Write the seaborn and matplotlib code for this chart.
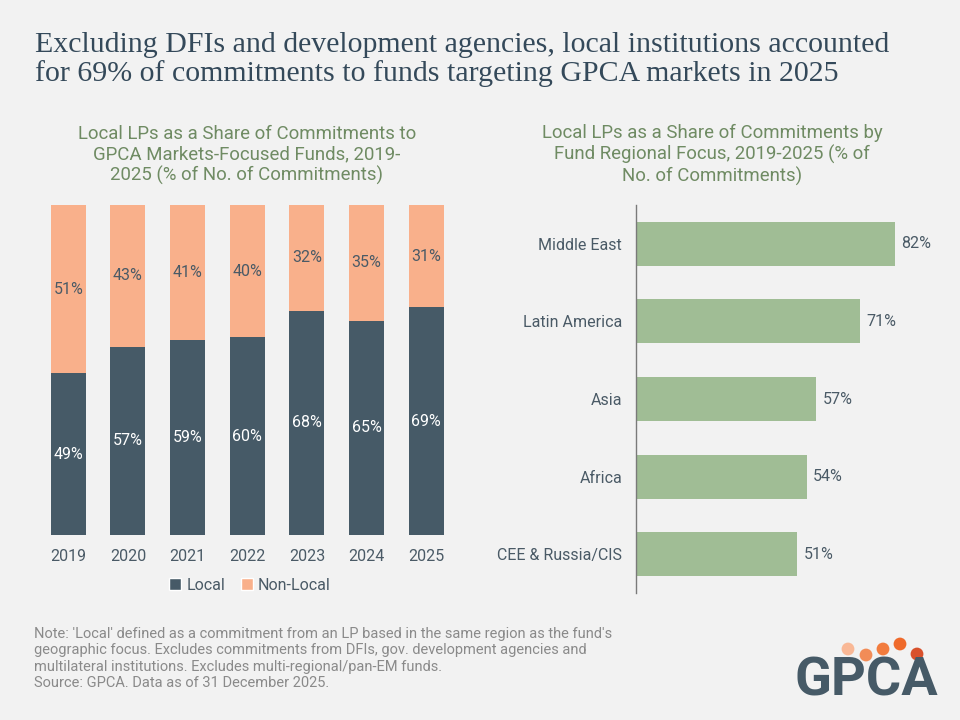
import matplotlib
matplotlib.use("Agg")
import matplotlib.pyplot as plt
import seaborn as sns
import pandas as pd
import numpy as np
from matplotlib.patches import Patch

# ---- data ----
years = ["2019", "2020", "2021", "2022", "2023", "2024", "2025"]
local = [49, 57, 59, 60, 68, 65, 69]
non_local = [51, 43, 41, 40, 32, 35, 31]

regions = ["Middle East", "Latin America", "Asia", "Africa", "CEE & Russia/CIS"]
region_share = [82, 71, 57, 54, 51]

# ---- style ----
BG = "#f2f2f2"
C_LOCAL = "#465a67"
C_NONLOCAL = "#f9b08b"
C_GREEN = "#a0bd95"
C_SUB = "#6f8b63"
C_TEXT = "#4a5a66"
C_TITLE = "#34495a"

sns.set_theme(style="white")
plt.rcParams["font.family"] = ["Roboto", "DejaVu Sans"]

fig = plt.figure(figsize=(9.6, 7.2), dpi=100, facecolor=BG)

def fx(px):
    return px / 960.0

def fy(py):
    return 1 - py / 720.0

# ---- title ----
TF = ["Liberation Serif", "DejaVu Serif"]
fig.text(fx(35), fy(45), "Excluding DFIs and development agencies, local institutions accounted",
         fontsize=21.5, family=TF, color=C_TITLE, va="center", ha="left")
fig.text(fx(35), fy(74), "for 69% of commitments to funds targeting GPCA markets in 2025",
         fontsize=21.5, family=TF, color=C_TITLE, va="center", ha="left")

# ---- left chart ----
df_left = pd.DataFrame({"year": years, "local": local, "non_local": non_local})
df_left["total"] = df_left["local"] + df_left["non_local"]

ax1 = fig.add_axes([fx(38.5), fy(535), fx(456 - 38.5), (535 - 205) / 720.0])
ax1.set_facecolor(BG)
sns.barplot(data=df_left, x="year", y="total", color=C_NONLOCAL, width=0.586,
            saturation=1, ax=ax1, linewidth=0)
sns.barplot(data=df_left, x="year", y="local", color=C_LOCAL, width=0.586,
            saturation=1, ax=ax1, linewidth=0)
ax1.set_ylim(0, 100)
ax1.set_xlim(-0.5, 6.5)
for i, (l, n) in enumerate(zip(local, non_local)):
    ax1.text(i, l / 2, f"{l}%", ha="center", va="center", color="white", fontsize=11.5)
    ax1.text(i, l + n / 2, f"{n}%", ha="center", va="center", color=C_TEXT, fontsize=11.5)
ax1.set_xlabel("")
ax1.set_ylabel("")
ax1.set_yticks([])
ax1.tick_params(axis="x", length=0, labelsize=11.5, labelcolor=C_TEXT, pad=10)
for s in ax1.spines.values():
    s.set_visible(False)

handles = [Patch(facecolor=C_LOCAL, label="Local"), Patch(facecolor=C_NONLOCAL, label="Non-Local")]
fig.legend(handles=handles, loc="center", bbox_to_anchor=(fx(250), fy(585)), ncol=2, frameon=False,
           fontsize=11.5, labelcolor=C_TEXT, handlelength=0.75, handleheight=0.75, handletextpad=0.3,
           columnspacing=1.0)

fig.text(fx(247), fy(155), "Local LPs as a Share of Commitments to\nGPCA Markets-Focused Funds, 2019-\n2025 (% of No. of Commitments)",
         ha="center", va="center", fontsize=13.4, color=C_SUB, linespacing=1.17)

# ---- right chart ----
df_right = pd.DataFrame({"region": regions, "share": region_share})
ax2 = fig.add_axes([fx(636), fy(593), fx(316), (593 - 205) / 720.0])
ax2.set_facecolor(BG)
sns.barplot(data=df_right, y="region", x="share", color=C_GREEN, width=0.567,
            saturation=1, ax=ax2, linewidth=0, orient="h")
ax2.set_xlim(0, 100)
ax2.set_ylim(4.5, -0.5)
for i, v in enumerate(region_share):
    ax2.text(v + 2.0, i, f"{v}%", ha="left", va="center", color=C_TEXT, fontsize=11.5)
ax2.set_xlabel("")
ax2.set_ylabel("")
ax2.set_xticks([])
ax2.tick_params(axis="y", length=0, labelsize=11.5, labelcolor=C_TEXT, pad=10)
for k, s in ax2.spines.items():
    s.set_visible(k == "left")
ax2.spines["left"].set_color("#7a7a7a")
ax2.spines["left"].set_linewidth(1.0)

fig.text(fx(712), fy(155), "Local LPs as a Share of Commitments by\nFund Regional Focus, 2019-2025 (% of\nNo. of Commitments)",
         ha="center", va="center", fontsize=13.4, color=C_SUB, linespacing=1.17)

# ---- note ----
note = ("Note: 'Local' defined as a commitment from an LP based in the same region as the fund's\n"
        "geographic focus. Excludes commitments from DFIs, gov. development agencies and\n"
        "multilateral institutions. Excludes multi-regional/pan-EM funds.\n"
        "Source: GPCA. Data as of 31 December 2025.")
fig.text(fx(34), fy(627), note, ha="left", va="top", fontsize=10.5,
         family=["Roboto", "DejaVu Sans"], color="#8a8a8a", linespacing=1.22)

# ---- logo ----
fig.text(fx(866), fy(681), "GPCA", ha="center", va="center", fontsize=39, fontweight="bold",
         family=["Roboto", "DejaVu Sans"], color="#465a67")
dot_x = [848, 866, 883, 900, 917]
dot_y = [649, 655, 649, 644, 654]
dot_c = ["#f9b896", "#f28c57", "#f27c3e", "#ef6a2b", "#d8512c"]
lax = fig.add_axes([0, 0, 1, 1], facecolor="none")
lax.set_xlim(0, 960)
lax.set_ylim(720, 0)
lax.axis("off")
lax.scatter(dot_x, dot_y, s=85, c=dot_c, linewidths=0)

fig.savefig("out.png", dpi=100, facecolor=BG)
